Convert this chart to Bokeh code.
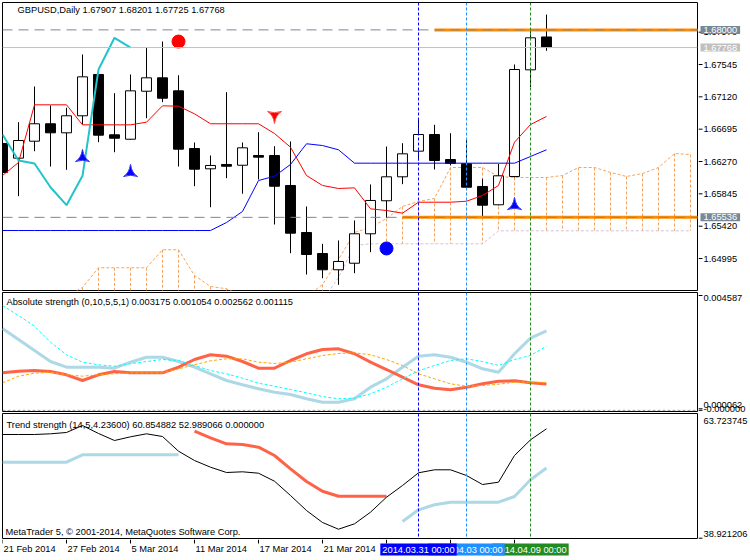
import math
import numpy as np
from bokeh.plotting import figure
from bokeh.layouts import column, row
from bokeh.models import Range1d, Span, Label
from bokeh.core.properties import value
from bokeh.embed import file_html
from bokeh.resources import INLINE

# ---------------- data ----------------
dates = ["2014-02-21", "2014-02-24", "2014-02-25", "2014-02-26", "2014-02-27", "2014-02-28",
         "2014-03-03", "2014-03-04", "2014-03-05", "2014-03-06", "2014-03-07", "2014-03-10",
         "2014-03-11", "2014-03-12", "2014-03-13", "2014-03-14", "2014-03-17", "2014-03-18",
         "2014-03-19", "2014-03-20", "2014-03-21", "2014-03-24", "2014-03-25", "2014-03-26",
         "2014-03-27", "2014-03-28", "2014-03-31", "2014-04-01", "2014-04-02", "2014-04-03",
         "2014-04-04", "2014-04-07", "2014-04-08", "2014-04-09", "2014-04-10"]

opens = [1.66507, 1.66314, 1.66537, 1.66766, 1.66647, 1.66871, 1.67414, 1.66621, 1.66563, 1.67194,
         1.67370, 1.67199, 1.66441, 1.66174, 1.66231, 1.66221, 1.66349, 1.66349, 1.65955, 1.65337,
         1.65061, 1.64847, 1.64933, 1.65320, 1.65754, 1.66069, 1.66406, 1.66625, 1.66296, 1.66240,
         1.65942, 1.65701, 1.66073, 1.67475, 1.67907]
highs = [1.66546, 1.66787, 1.67256, 1.67006, 1.66976, 1.67677, 1.67420, 1.67168, 1.67414, 1.67765,
         1.67847, 1.67404, 1.66520, 1.66349, 1.67181, 1.66520, 1.66655, 1.66471, 1.66533, 1.65679,
         1.65188, 1.65232, 1.65495, 1.65968, 1.66467, 1.66511, 1.66835, 1.66752, 1.66642, 1.66576,
         1.66043, 1.66240, 1.67545, 1.67992, 1.68201]
lows = [1.66086, 1.65814, 1.66406, 1.66204, 1.66161, 1.66756, 1.66524, 1.66392, 1.66555, 1.66839,
        1.67050, 1.66204, 1.65945, 1.65669, 1.66051, 1.65846, 1.66034, 1.65442, 1.65065, 1.64785,
        1.64736, 1.64649, 1.64802, 1.65078, 1.65530, 1.65972, 1.66283, 1.66165, 1.66218, 1.65915,
        1.65551, 1.65694, 1.66060, 1.67247, 1.67725]
closes = [1.66126, 1.66546, 1.66766, 1.66647, 1.66871, 1.67383, 1.66616, 1.66576, 1.67199, 1.67370,
          1.67102, 1.66432, 1.66169, 1.66218, 1.66208, 1.66450, 1.66327, 1.65945, 1.65328, 1.65048,
          1.64847, 1.64956, 1.65320, 1.65758, 1.66069, 1.66371, 1.66625, 1.66283, 1.66244, 1.65932,
          1.65696, 1.66082, 1.67479, 1.67896, 1.67768]

tenkan = [1.66086, 1.66257, 1.67015, 1.67015, 1.67015, 1.66752, 1.66752, 1.66752, 1.66752, 1.66787,
          1.67002, 1.66997, 1.66897, 1.66766, 1.66766, 1.66766, 1.66766, 1.66638, 1.66458, 1.66086,
          1.65955, 1.65915, 1.65924, 1.65648, 1.65626, 1.65591, 1.65735, 1.65735, 1.65735, 1.65748,
          1.65823, 1.65955, 1.66524, 1.66756, 1.66862]
kijun = [1.65363, 1.65363, 1.65363, 1.65363, 1.65363, 1.65363, 1.65363, 1.65363, 1.65363, 1.65363,
         1.65363, 1.65363, 1.65363, 1.65363, 1.65468, 1.65613, 1.66020, 1.66077, 1.66231, 1.66503,
         1.66480, 1.66424, 1.66248, 1.66248, 1.66248, 1.66248, 1.66248, 1.66248, 1.66248, 1.66248,
         1.66248, 1.66248, 1.66248, 1.66336, 1.66424]
chikou_shift = 26
span_a = [1.64180, 1.64246, 1.64312, 1.64404, 1.64496, 1.64614, 1.64873, 1.64873, 1.64873, 1.64873,
          1.65110, 1.65110, 1.64772, 1.64627, 1.64597, 1.64509, 1.64469, 1.64443, 1.64443, 1.64496,
          1.64653, 1.64982, 1.65337, 1.65403, 1.65521, 1.65679, 1.65744, 1.65784, 1.66191, 1.66191,
          1.66191, 1.66073, 1.66060, 1.66060, 1.66060, 1.66086, 1.66191, 1.66191, 1.66126, 1.66073,
          1.66112, 1.66191, 1.66375, 1.66362]
span_b = [1.64100, 1.64100, 1.64100, 1.64100, 1.64100, 1.64100, 1.64100, 1.64100, 1.64100, 1.64100,
          1.64100, 1.64100, 1.64100, 1.64100, 1.64100, 1.64100, 1.64100, 1.64100, 1.64100, 1.64200,
          1.64443, 1.64745, 1.65166, 1.65188, 1.65188, 1.65188, 1.65188, 1.65188, 1.65188, 1.65188,
          1.65188, 1.65359, 1.65359, 1.65359, 1.65359, 1.65359, 1.65359, 1.65359, 1.65359, 1.65359,
          1.65359, 1.65359, 1.65359, 1.65359]

up_idx, up_price = [5, 8, 32], [1.66323, 1.66126, 1.65692]
down_idx, down_price = [17], [1.66875]
red_dot_idx, red_dot_price = [11], [1.67847]
blue_dot_idx, blue_dot_price = [24], [1.65127]

hline_level = [1.68000, 1.65536]
trend_start_idx = [27, 25]
bid = 1.67768

price_ticks = [1.64995, 1.65420, 1.65845, 1.66270, 1.66695, 1.67120, 1.67545, 1.67970]

abs_bulls = [0.003269, 0.002830, 0.002390, 0.001951, 0.001723, 0.001723, 0.001723, 0.001683, 0.001923, 0.002123,
             0.002123, 0.001951, 0.001723, 0.001460, 0.001192, 0.001020, 0.000861, 0.000725, 0.000633, 0.000461,
             0.000325, 0.000325, 0.000461, 0.000925, 0.001260, 0.001723, 0.002163, 0.002219, 0.002123, 0.001923,
             0.001659, 0.001524, 0.002259, 0.002882, 0.003175]
abs_bears = [0.001500, 0.001564, 0.001591, 0.001552, 0.001420, 0.001192, 0.001420, 0.001552, 0.001500, 0.001500,
             0.001500, 0.001723, 0.002031, 0.002219, 0.002163, 0.001951, 0.001683, 0.001683, 0.001991, 0.002259,
             0.002430, 0.002458, 0.002259, 0.001923, 0.001631, 0.001324, 0.001020, 0.000885, 0.000821, 0.000925,
             0.001060, 0.001164, 0.001180, 0.001100, 0.001054]
abs_bulls_sig = [0.004188, 0.003788, 0.003361, 0.002722, 0.002219, 0.001923, 0.001819, 0.001763, 0.001859, 0.001951,
                 0.002031, 0.001991, 0.001791, 0.001591, 0.001460, 0.001284, 0.001084, 0.000964, 0.000833, 0.000701,
                 0.000553, 0.000461, 0.000485, 0.000661, 0.000925, 0.001260, 0.001580, 0.001791, 0.001991, 0.002059,
                 0.001951, 0.001791, 0.002031, 0.002191, 0.002562]
abs_bears_sig = [0.001100, 0.001364, 0.001484, 0.001524, 0.001420, 0.001364, 0.001420, 0.001460, 0.001500, 0.001500,
                 0.001500, 0.001659, 0.001819, 0.001979, 0.002059, 0.002059, 0.001923, 0.001871, 0.001923, 0.002059,
                 0.002191, 0.002270, 0.002298, 0.002219, 0.002031, 0.001791, 0.001460, 0.001260, 0.001060, 0.000964,
                 0.000992, 0.001044, 0.001124, 0.001124, 0.001115]
abs_ticks = [0.004587, 0.000062, 0.0]
abs_tick_labels = ["0.004587", "0.000062", "-0.000000"]

nan = float("nan")
trend_main = [59.714, 59.714, 59.714, 59.854, 60.115, 61.518, 59.914, 58.510, 59.252, 59.854,
              59.312, 56.365, 54.500, 53.157, 52.094, 52.234, 51.953, 50.349, 47.482, 44.474,
              42.068, 40.724, 41.807, 44.133, 47.141, 49.487, 52.034, 52.635, 52.635, 51.492,
              49.688, 50.149, 55.503, 58.651, 60.854882]
trend_up = [54.159, 54.159, 54.159, 54.159, 54.159, 55.643, 55.643, 55.643, 55.643, 55.643,
            55.643, 55.643, nan, nan, nan, nan, nan, nan, nan, nan,
            nan, nan, nan, nan, nan, 42.268, 44.614, 45.617, 46.138, 46.138,
            46.138, 46.138, 47.281, 50.630, 52.989066]
trend_dn = [nan, nan, nan, nan, nan, nan, nan, nan, nan, nan,
            nan, nan, 60.375, 59.052, 57.849, 57.708, 57.167, 55.503, 52.836, 50.289,
            48.344, 47.342, 47.342, 47.342, 47.342, nan, nan, nan, nan, nan,
            nan, nan, nan, nan, nan]
trend_ticks = [63.723745, 38.921206]

date_tick_idx = [0, 4, 8, 12, 16, 20, 24, 28, 32]
date_tick_labels = ["21 Feb 2014", "27 Feb 2014", "5 Mar 2014", "11 Mar 2014", "17 Mar 2014",
                    "21 Mar 2014", "27 Mar 2014", "2 Apr 2014", "8 Apr 2014"]

vline_idx = [26, 29, 33]
vline_labels = ["2014.03.31 00:00", "2014.04.03 00:00", "2014.04.09 00:00"]
vline_colors = ["#0000FF", "#1E90FF", "#228B22"]

# ---------------- layout constants ----------------
FONT = "Liberation Sans"
FS = "9.3px"
BAR_PX = 16
FRAME_W = 695
STRIP_W = 52
X_END = FRAME_W / BAR_PX

MAIN_H, P1_H, P2_H = 288, 119, 125
MAIN_TOP = 1.68360
MAIN_BOT = MAIN_TOP - MAIN_H / 7608.0
P1_TOP, P1_BOT = 0.004707, -0.000046
P2_TOP, P2_BOT = 63.924, 38.861

xr = Range1d(0, X_END)
idx = np.arange(len(closes))


def ypos(top, bot, h, px):
    return top - (top - bot) * px / h


def make_fig(h, y0, y1, btop, bbot):
    p = figure(frame_width=FRAME_W, frame_height=h, x_range=xr, y_range=Range1d(y0, y1),
               min_border_left=2, min_border_right=1, min_border_top=btop, min_border_bottom=bbot,
               toolbar_location=None, output_backend="svg",
               x_axis_location=None, y_axis_location=None)
    p.grid.visible = False
    p.outline_line_color = "black"
    p.outline_line_width = 1
    p.background_fill_color = "white"
    p.border_fill_color = "white"
    return p


def make_strip(frame_top, frame_bot, y_top, y_bot, strip_top, strip_bot, ticks, labels, offsets):
    """price-scale strip right of a pane: same pixel scale as the pane frame
    (frame_top..frame_bot in page pixels maps y_top..y_bot)."""
    ppu = (frame_bot - frame_top) / (y_top - y_bot)
    s_hi = y_top + (frame_top - strip_top) / ppu
    s_lo = y_bot - (strip_bot - frame_bot) / ppu
    s = figure(frame_width=STRIP_W, frame_height=strip_bot - strip_top,
               x_range=Range1d(0, STRIP_W), y_range=Range1d(s_lo, s_hi),
               min_border=0, toolbar_location=None, output_backend="svg",
               x_axis_location=None, y_axis_location=None)
    s.grid.visible = False
    s.outline_line_color = None
    s.background_fill_color = "white"
    s.border_fill_color = "white"
    s.segment([0] * len(ticks), ticks, [4] * len(ticks), ticks, line_color="black", line_width=1)
    s.text([5] * len(ticks), ticks, text=labels, y_offset=offsets, text_font=value(FONT),
           text_font_size=FS, text_baseline="middle", text_align="left", text_color="black")
    return s


def vlines(p):
    for i, c in zip(vline_idx, vline_colors):
        p.add_layout(Span(location=i, dimension="height", line_color=c, line_dash="3 2", line_width=1))


def text_label(p, x, y, text, color="black", align="left", bg=None, pad=None):
    kw = {}
    if bg is not None:
        kw = dict(background_fill_color=bg, padding=pad)
    p.add_layout(Label(x=x, y=y, text=text, text_color=color, text_font=FONT, text_font_size=FS,
                       text_align=align, text_baseline="middle", **kw))


BOX_PAD = dict(left=3, right=3, top=1, bottom=1)
TIME_PAD = dict(left=2, right=2, top=1, bottom=1)

# ---------------- main price pane ----------------
p = make_fig(MAIN_H, MAIN_BOT, MAIN_TOP, 2, 1)

cidx = np.arange(len(span_a))
sa = np.array(span_a)
sb = np.array(span_b)
p.segment(cidx, sa, cidx, sb, line_color="#F4A460", line_dash="3 2", line_width=1)
p.line(cidx, sb, line_color="#D8BFD8", line_dash="3 2", line_width=1)
p.line(cidx, sa, line_color="#F4A460", line_dash="3 2", line_width=1)

o = np.array(opens); c = np.array(closes); hi = np.array(highs); lo = np.array(lows)
inc = c >= o
p.segment(idx, hi, idx, lo, line_color="black", line_width=1)
p.vbar(idx[inc], 0.62, c[inc], o[inc], fill_color="white", line_color="black", line_width=1)
p.vbar(idx[~inc], 0.62, o[~inc], c[~inc], fill_color="black", line_color="black", line_width=1)

p.line(idx, tenkan, line_color="#FF0000", line_width=1)
p.line(idx, kijun, line_color="#0000FF", line_width=1)
p.line(idx[:len(closes) - chikou_shift], closes[chikou_shift:], line_color="#22C4CC", line_width=2)

for lv in hline_level:
    p.add_layout(Span(location=lv, dimension="width", line_color="#778899", line_dash="10 6", line_width=1))
p.add_layout(Span(location=bid, dimension="width", line_color="#C0C0C0", line_width=1))
p.ray(trend_start_idx, hline_level, length=0, angle=0, line_color="#FF8C00", line_width=3)

p.scatter(up_idx, up_price, marker="triangle_pin", size=14, fill_color="#0000FF", line_color="#3030FF")
p.scatter(down_idx, down_price, marker="triangle_pin", size=14, angle=math.pi,
          fill_color="#FF0000", line_color="#FF5050")
p.scatter(red_dot_idx, red_dot_price, marker="circle", size=13, fill_color="#FF0000", line_color="#FF0000")
p.scatter(blue_dot_idx, blue_dot_price, marker="circle", size=13, fill_color="#0000FF", line_color="#0000FF")

vlines(p)

title_main = "GBPUSD,Daily  %.5f %.5f %.5f %.5f" % (opens[-1], highs[-1], lows[-1], closes[-1])
text_label(p, 15 / BAR_PX, ypos(MAIN_TOP, MAIN_BOT, MAIN_H, 7.5), title_main)

# page rows: main pane frame 2..290, pane 1 frame 292..411, pane 2 frame 413..538
s_main = make_strip(2, 290, MAIN_TOP, MAIN_BOT, 0, 291, price_ticks,
                    ["%.5f" % t for t in price_ticks], [0] * len(price_ticks))
text_label(s_main, 2, hline_level[0], "%.5f" % hline_level[0], color="white", bg="#778899", pad=BOX_PAD)
text_label(s_main, 2, bid, "%.5f" % bid, color="white", bg="#C0C0C0", pad=BOX_PAD)
text_label(s_main, 2, hline_level[1], "%.5f" % hline_level[1], color="white", bg="#778899", pad=BOX_PAD)

# ---------------- absolute strength pane ----------------
p1 = make_fig(P1_H, P1_BOT, P1_TOP, 1, 1)
p1.add_layout(Span(location=0, dimension="width", line_color="#A0A0A0", line_dash="3 2", line_width=1))
p1.line(idx, abs_bulls, line_color="#ADD8E6", line_width=3)
p1.line(idx, abs_bears, line_color="#FF6347", line_width=3)
p1.line(idx, abs_bulls_sig, line_color="#00FFFF", line_width=1, line_dash="3 2")
p1.line(idx, abs_bears_sig, line_color="#FFA500", line_width=1, line_dash="3 2")
vlines(p1)
title_abs = "Absolute strength (0,10,5,5,1) %.6f %.6f %.6f %.6f" % (
    abs_bulls[-1], abs_bears[-1], abs_bulls_sig[-1], abs_bears_sig[-1])
text_label(p1, 4 / BAR_PX, ypos(P1_TOP, P1_BOT, P1_H, 9), title_abs)
s1 = make_strip(292, 411, P1_TOP, P1_BOT, 291, 415, abs_ticks, abs_tick_labels, [2.5, -3.5, -1.5])

# ---------------- trend strength pane ----------------
p2 = make_fig(P2_H, P2_BOT, P2_TOP, 1, 1)
p2.line(idx, trend_up, line_color="#ADD8E6", line_width=3)
p2.line(idx, trend_dn, line_color="#FF6347", line_width=3)
p2.line(idx, trend_main, line_color="black", line_width=1)
vlines(p2)
title_trend = "Trend strength (14,5,4.23600) %.6f %.6f %.6f" % (trend_main[-1], trend_up[-1], 0.0)
text_label(p2, 4 / BAR_PX, ypos(P2_TOP, P2_BOT, P2_H, 11), title_trend)
text_label(p2, 3 / BAR_PX, ypos(P2_TOP, P2_BOT, P2_H, 118.5),
           "MetaTrader 5, \u00a9 2001-2014, MetaQuotes Software Corp.")
s2 = make_strip(413, 538, P2_TOP, P2_BOT, 415, 539, trend_ticks,
                ["%.6f" % t for t in trend_ticks], [6.5, -4.5])

# ---------------- time scale strip ----------------
TS_H = 21
ts_w = FRAME_W + STRIP_W + 1
ts = figure(frame_width=ts_w, frame_height=TS_H, x_range=Range1d(0, ts_w / BAR_PX),
            y_range=Range1d(0, TS_H), min_border_left=2, min_border_right=0,
            min_border_top=0, min_border_bottom=0, toolbar_location=None, output_backend="svg",
            x_axis_location=None, y_axis_location=None)
ts.grid.visible = False
ts.outline_line_color = None
ts.background_fill_color = "white"
ts.border_fill_color = "white"
ts.segment(date_tick_idx, [TS_H] * len(date_tick_idx), date_tick_idx, [TS_H - 4] * len(date_tick_idx),
           line_color="black", line_width=1)
ts.text([i + 1 / BAR_PX for i in date_tick_idx], [TS_H - 9] * len(date_tick_idx), text=date_tick_labels,
        text_font=value(FONT), text_font_size=FS, text_baseline="middle", text_align="left",
        text_color="black")
for i, t, col in reversed(list(zip(vline_idx, vline_labels, vline_colors))):
    text_label(ts, i, TS_H - 10, t, color="white", align="center", bg=col, pad=TIME_PAD)

layout = column(row(column(p, p1, p2, spacing=0), column(s_main, s1, s2, spacing=0), spacing=0),
                ts, spacing=0)
open("out.html", "w").write(file_html(layout, INLINE))
